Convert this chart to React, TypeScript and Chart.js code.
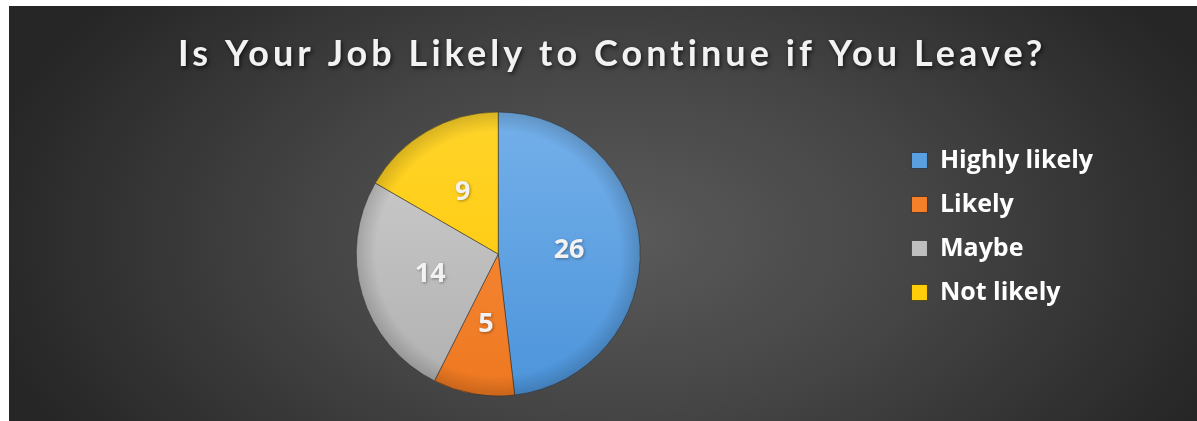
import React, { useEffect, useRef } from 'react';
import { Chart, registerables } from 'chart.js';

Chart.register(...registerables);

const TITLE = 'Is Your Job Likely to Continue if You Leave?';
const CATEGORIES = ['Highly likely', 'Likely', 'Maybe', 'Not likely'];
const VALUES = [26, 5, 14, 9];
const BASE_COLORS = ['#5A9FE0', '#F4802A', '#BFBFBF', '#FFCD0A'];
const LIGHT_COLORS = ['#74B0EA', '#F98E40', '#CECECE', '#FFD42A'];
const DARK_COLORS = ['#4C94DA', '#EE7820', '#B0B0B0', '#FFC600'];

const TITLE_FONT = 'Lato, "Open Sans", "DejaVu Sans", sans-serif';
const FONT = '"Open Sans", "Noto Sans", "DejaVu Sans", sans-serif';
const PIE_RADIUS = 142;

const backgroundPlugin = {
  id: 'bgGradient',
  beforeDraw(chart: any) {
    const { ctx, width, height } = chart;
    ctx.save();
    const cx = 610;
    const cy = 230;
    ctx.translate(cx, cy);
    ctx.scale(1.7, 1);
    const g = ctx.createRadialGradient(0, 0, 0, 0, 0, 380);
    g.addColorStop(0, '#5a5a5a');
    g.addColorStop(0.45, '#464646');
    g.addColorStop(1, '#262626');
    ctx.fillStyle = g;
    ctx.fillRect(-cx / 1.7 - 10, -cy - 10, width / 1.7 + 20, height + 20);
    ctx.restore();
  },
};

const titlePlugin = {
  id: 'spacedTitle',
  afterDraw(chart: any) {
    const { ctx } = chart;
    ctx.save();
    ctx.font = `bold 36px ${TITLE_FONT}`;
    ctx.textAlign = 'left';
    ctx.textBaseline = 'alphabetic';
    (ctx as any).letterSpacing = '0px';
    const natural = ctx.measureText(TITLE).width;
    const spacing = (865 - natural) / (TITLE.length - 1);
    (ctx as any).letterSpacing = `${spacing}px`;
    ctx.shadowColor = 'rgba(0,0,0,0.65)';
    ctx.shadowBlur = 4;
    ctx.shadowOffsetX = 1.5;
    ctx.shadowOffsetY = 2;
    ctx.fillStyle = '#F2F2F2';
    ctx.fillText(TITLE, 169, 60);
    ctx.restore();
  },
};

const labelPlugin = {
  id: 'sliceLabels',
  afterDatasetsDraw(chart: any) {
    const { ctx } = chart;
    const meta = chart.getDatasetMeta(0);
    const first = meta.data[0];
    if (first) {
      const { x, y } = first;
      ctx.save();
      const rg = ctx.createRadialGradient(x, y, PIE_RADIUS * 0.86, x, y, PIE_RADIUS);
      rg.addColorStop(0, 'rgba(0,0,0,0)');
      rg.addColorStop(1, 'rgba(0,0,0,0.16)');
      ctx.beginPath();
      ctx.arc(x, y, PIE_RADIUS, 0, Math.PI * 2);
      ctx.fillStyle = rg;
      ctx.fill();
      ctx.restore();
    }
    ctx.save();
    ctx.font = `bold 27px ${FONT}`;
    ctx.textAlign = 'center';
    ctx.textBaseline = 'middle';
    ctx.fillStyle = '#F2F2F2';
    ctx.shadowColor = 'rgba(0,0,0,0.35)';
    ctx.shadowBlur = 3;
    ctx.shadowOffsetX = 1;
    ctx.shadowOffsetY = 1;
    meta.data.forEach((arc: any, i: number) => {
      const p = arc.getCenterPoint();
      ctx.fillText(String(VALUES[i]), p.x, p.y);
    });
    ctx.restore();
  },
};

export default function App() {
  const canvasRef = useRef<HTMLCanvasElement | null>(null);

  useEffect(() => {
    if (!canvasRef.current) return;
    const chart = new Chart(canvasRef.current, {
      type: 'pie',
      data: {
        labels: CATEGORIES,
        datasets: [
          {
            data: VALUES,
            clip: false as any,
            backgroundColor: (context: any) => {
              const i = context.dataIndex;
              const area = context.chart.chartArea;
              if (!area || i === undefined) return BASE_COLORS[i ?? 0];
              const cy = (area.top + area.bottom) / 2;
              const g = context.chart.ctx.createLinearGradient(0, cy - PIE_RADIUS, 0, cy + PIE_RADIUS);
              g.addColorStop(0, LIGHT_COLORS[i]);
              g.addColorStop(1, DARK_COLORS[i]);
              return g;
            },
            borderColor: 'rgba(45,45,45,0.55)',
            borderWidth: 1,
          },
        ],
      },
      options: {
        animation: false,
        responsive: true,
        maintainAspectRatio: false,
        radius: PIE_RADIUS,
        layout: {
          padding: { top: 123, bottom: 42, left: 95, right: 94 },
        },
        plugins: {
          title: { display: false },
          tooltip: { enabled: false },
          legend: {
            display: true,
            position: 'right',
            align: 'start',
            labels: {
              boxWidth: 16,
              boxHeight: 16,
              padding: 19,
              color: '#FFFFFF',
              font: { family: FONT, size: 25, weight: 'bold' },
              generateLabels: (ch: any) => {
                const items = (Chart as any).overrides.pie.plugins.legend.labels.generateLabels(ch);
                return items.map((it: any, i: number) => ({
                  ...it,
                  fillStyle: BASE_COLORS[i],
                  strokeStyle: 'rgba(30,30,30,0.6)',
                  lineWidth: 1,
                  fontColor: '#FFFFFF',
                }));
              },
            },
          },
        },
      } as any,
      plugins: [backgroundPlugin, titlePlugin, labelPlugin],
    });
    return () => chart.destroy();
  }, []);

  return (
    <div style={{ position: 'absolute', left: 9, top: 6, width: 1188, height: 415 }}>
      <canvas ref={canvasRef} />
    </div>
  );
}
